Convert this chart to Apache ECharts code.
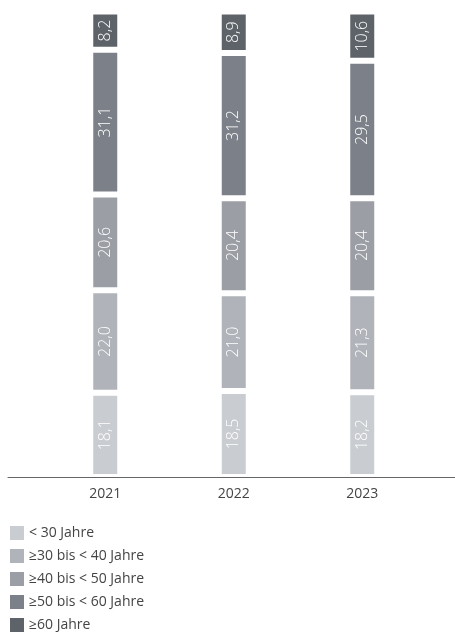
<!DOCTYPE html>
<html>
<head>
<meta charset="utf-8">
<script src="https://cdn.jsdelivr.net/npm/echarts@6/dist/echarts.min.js"></script>
<style>
  html, body { margin: 0; padding: 0; background: #fff; }
  #chart { width: 455px; height: 632px; }
</style>
</head>
<body>
<div id="chart"></div>
<script>
const years = ['2021', '2022', '2023']
const groups = ['< 30 Jahre', '≥30 bis < 40 Jahre', '≥40 bis < 50 Jahre', '≥50 bis < 60 Jahre', '≥60 Jahre']
const under30 = [18.1, 18.5, 18.2]
const from30to40 = [22.0, 21.0, 21.3]
const from40to50 = [20.6, 20.4, 20.4]
const from50to60 = [31.1, 31.2, 29.5]
const over60 = [8.2, 8.9, 10.6]
const colors = ['#c9ccd0', '#b0b3b9', '#9b9ea5', '#7c8088', '#5e636a']

const seriesData = [under30, from30to40, from40to50, from50to60, over60]
const font = '"Open Sans", "Noto Sans", sans-serif'

const chart = echarts.init(document.getElementById('chart'))

chart.setOption({
  animation: false,
  color: colors,
  grid: [
    { left: 41, right: 28.5, top: 11.5, bottom: 155 },
    // second grid only for the full-width baseline
    { left: 8, right: 0, top: 11.5, bottom: 155 },
  ],
  legend: {
    orient: 'vertical',
    left: 8,
    top: 524,
    height: 120,
    padding: 0,
    itemWidth: 16,
    itemHeight: 16,
    itemGap: 5,
    icon: 'rect',
    data: groups,
    textStyle: { color: '#444', fontSize: 14, lineHeight: 16, fontFamily: font, padding: [0, 0, 0, -1] },
  },
  xAxis: [
    {
      type: 'category',
      gridIndex: 0,
      data: years,
      axisLine: { show: false },
      axisTick: { show: false },
      axisLabel: { color: '#444', fontSize: 14, fontFamily: font, margin: 10 },
    },
    {
      type: 'category',
      gridIndex: 1,
      data: years,
      z: 10,
      axisLine: { show: true, lineStyle: { color: '#666', width: 1 } },
      axisTick: { show: false },
      axisLabel: { show: false },
    },
  ],
  yAxis: [
    { type: 'value', gridIndex: 0, min: 0, max: 100, show: false },
    { type: 'value', gridIndex: 1, min: 0, max: 100, show: false },
  ],
  series: seriesData.map((vals, i) => ({
    name: groups[i],
    type: 'bar',
    stack: 'total',
    xAxisIndex: 0,
    yAxisIndex: 0,
    barWidth: 30,
    data: vals,
    itemStyle: { color: colors[i], borderColor: '#fff', borderWidth: 3 },
    label: {
      show: true,
      position: 'inside',
      rotate: 90,
      color: '#fff',
      fontSize: 16,
      fontWeight: 300,
      fontFamily: font,
      formatter: (p) => p.value.toFixed(1).replace('.', ','),
    },
  })),
})
</script>
</body>
</html>
